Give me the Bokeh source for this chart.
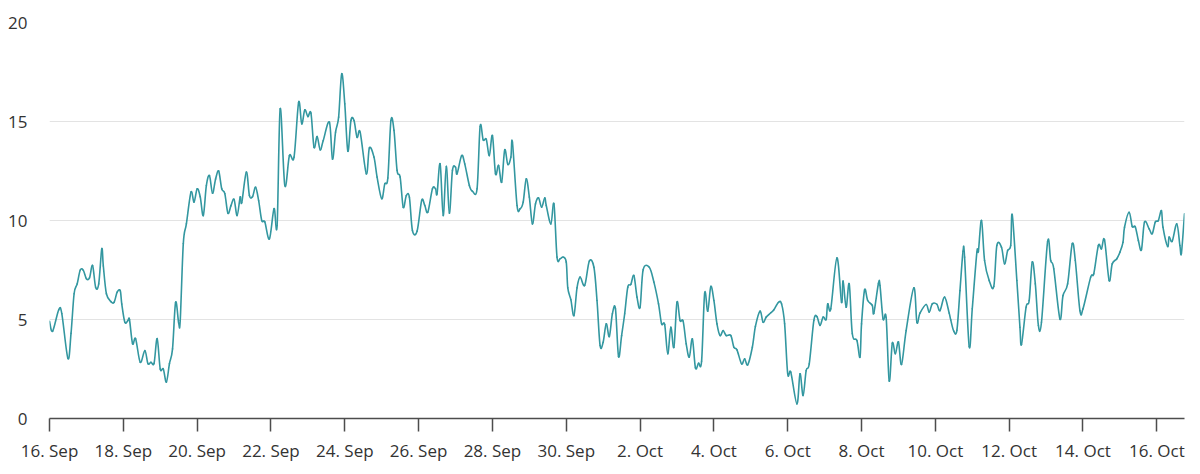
from bokeh.plotting import figure
from bokeh.models import Range1d, FixedTicker
from bokeh.embed import file_html
from bokeh.resources import INLINE

# hours since 16 Sep 00:00
hours = [0, 2, 6, 8, 12, 14, 16, 18, 20, 22, 24, 26, 28, 30, 32, 34, 35, 37, 40, 42,
         44, 46, 47, 49, 51, 52, 54, 56, 59, 62, 64, 66, 68, 70, 72, 74, 76, 78, 80, 82,
         84, 85, 87, 89, 92, 94, 96, 98, 100, 102, 104, 106, 108, 110, 112, 114, 116, 118, 120, 122,
         124, 125, 128, 130, 132, 134, 136, 138, 140, 143, 146, 148, 150, 153, 156, 159, 162, 164, 166, 168,
         170, 172, 174, 176, 178, 182, 184, 186, 188, 190, 192, 194, 196, 198, 200, 202, 206, 208, 211, 213,
         216, 218, 220, 222, 224, 226, 228, 230, 232, 234, 236, 239, 242, 244, 246, 249, 251, 252, 254, 256,
         258, 260, 262, 264, 265, 268, 270, 273, 275, 278, 280, 282, 284, 286, 288, 290, 292, 294, 296, 298,
         300, 301, 304, 306, 308, 310, 312, 314, 316, 318, 320, 322, 323, 326, 328, 330, 332, 334, 336, 337,
         339, 341, 343, 345, 348, 351, 354, 356, 358, 360, 362, 364, 366, 368, 370, 372, 374, 376, 378, 380,
         382, 384, 386, 390, 393, 396, 398, 400, 402, 404, 406, 408, 410, 412, 414, 416, 418, 420, 422, 424,
         426, 428, 430, 432, 434, 436, 438, 440, 443, 445, 447, 450, 452, 454, 457, 459, 462, 464, 466, 469,
         471, 474, 476, 478, 480, 482, 486, 488, 490, 492, 494, 497, 499, 501, 503, 505, 506, 508, 512, 515,
         516, 518, 520, 522, 525, 527, 528, 530, 532, 535, 536, 539, 540, 542, 544, 546, 548, 550, 552, 554,
         557, 562, 564, 566, 570, 572, 574, 577, 579, 582, 585, 586, 588, 590, 592, 594, 595, 598, 600, 603,
         604, 606, 608, 611, 614, 616, 619, 621, 623, 625, 626, 629, 631, 632, 635, 637, 639, 641, 643, 645,
         649, 651, 653, 657, 659, 662, 665, 667, 670, 672, 677, 679, 682, 684, 686, 689, 691, 694, 696, 698,
         699, 702, 704, 706, 708, 710, 712, 715, 717, 719, 721, 723, 724, 727, 728, 730, 733, 735, 736, 738]

values = [4.91, 4.41, 5.49, 5.3, 3.03, 4.3, 6.3, 6.8, 7.5, 7.48, 7.06, 7.1, 7.73, 6.63, 6.8, 8.57, 7.7, 6.3, 5.9, 5.87,
          6.38, 6.46, 5.78, 4.86, 4.95, 5.0, 3.78, 4.03, 2.84, 3.43, 2.77, 2.84, 2.79, 4.03, 2.5, 2.5, 1.84, 2.77, 3.52, 5.87,
          4.82, 4.95, 8.83, 9.83, 11.43, 10.93, 11.6, 11.2, 10.25, 11.77, 12.27, 11.38, 12.1, 12.5, 11.6, 11.36, 10.37, 10.75, 11.07, 10.25,
          11.19, 10.9, 12.44, 11.26, 11.2, 11.68, 11.0, 10.0, 9.93, 9.07, 10.6, 9.75, 15.64, 11.77, 13.28, 13.2, 15.98, 14.88, 15.59, 15.25,
          15.42, 13.7, 14.24, 13.57, 14.04, 14.97, 13.1, 14.46, 15.22, 17.41, 15.89, 13.5, 15.05, 15.05, 14.2, 14.46, 12.36, 13.67, 13.2, 12.19,
          11.1, 11.85, 12.15, 15.05, 14.55, 12.53, 12.19, 10.67, 11.26, 11.18, 9.49, 9.46, 11.01, 10.76, 10.42, 11.6, 11.6, 11.35, 12.86, 10.25,
          12.73, 10.37, 12.53, 12.69, 12.36, 13.28, 12.86, 11.77, 11.48, 11.6, 14.75, 14.07, 14.1, 13.28, 14.29, 12.36, 12.78, 11.94, 13.57, 12.83,
          13.2, 13.96, 10.76, 10.59, 10.93, 12.1, 11.18, 9.83, 10.84, 11.14, 10.67, 11.14, 10.76, 9.83, 10.84, 8.15, 8.07, 8.15, 7.9, 6.6,
          6.0, 5.2, 6.6, 7.14, 6.72, 7.95, 7.64, 5.96, 3.69, 3.85, 4.78, 4.14, 5.29, 5.54, 3.13, 4.19, 5.29, 6.63, 6.77, 7.22,
          6.13, 5.62, 7.51, 7.64, 6.89, 5.79, 4.78, 4.75, 3.27, 4.61, 3.6, 5.87, 4.95, 4.92, 3.77, 3.1, 4.02, 2.56, 2.79, 2.89,
          6.33, 5.42, 6.67, 5.96, 4.78, 4.19, 4.44, 4.19, 4.19, 3.6, 3.47, 2.76, 3.01, 2.71, 3.6, 4.65, 5.42, 4.86, 5.12, 5.34,
          5.49, 5.87, 5.79, 4.78, 2.26, 2.34, 0.74, 2.26, 1.16, 2.42, 2.76, 4.95, 5.15, 4.7, 5.12, 5.0, 5.79, 5.54, 8.11, 5.87,
          6.94, 5.62, 6.8, 4.28, 3.94, 3.1, 4.78, 6.5, 5.96, 5.71, 5.32, 6.83, 6.72, 5.03, 5.1, 1.9, 3.8, 3.27, 3.87, 2.73,
          4.44, 6.6, 4.86, 5.32, 5.76, 5.37, 5.79, 5.77, 5.45, 6.13, 5.32, 4.98, 4.41, 4.45, 6.46, 8.45, 8.15, 3.64, 5.54, 8.4,
          8.45, 10.0, 7.98, 6.97, 6.67, 8.74, 8.65, 7.81, 8.48, 8.74, 10.29, 6.97, 4.61, 3.74, 5.62, 5.96, 7.9, 6.8, 4.7, 4.86,
          8.94, 7.98, 7.56, 5.03, 6.21, 6.8, 8.82, 7.98, 5.45, 5.54, 7.14, 7.31, 8.74, 8.57, 9.02, 6.97, 7.81, 8.07, 8.4, 8.9,
          9.66, 10.42, 9.7, 9.68, 8.99, 8.52, 9.92, 9.58, 9.33, 9.92, 10.0, 10.5, 9.66, 8.69, 9.16, 8.95, 9.83, 8.74, 8.35, 10.34]

tick_hours = [0, 48, 96, 144, 192, 240, 288, 336, 384, 432, 480, 528, 576, 624, 672, 720]
tick_labels = ["16. Sep", "18. Sep", "20. Sep", "22. Sep", "24. Sep", "26. Sep", "28. Sep", "30. Sep",
               "2. Oct", "4. Oct", "6. Oct", "8. Oct", "10. Oct", "12. Oct", "14. Oct", "16. Oct"]
y_ticks = [0, 5, 10, 15, 20]

FONT = "Open Sans"
TEXT = "#333333"
LINE = "#3397a0"

p = figure(width=1192, height=466, output_backend="svg", toolbar_location=None,
           x_range=Range1d(0, 738), y_range=Range1d(0, 20),
           min_border_left=49, min_border_right=8, min_border_top=22, min_border_bottom=48)
p.outline_line_color = None
p.background_fill_color = "white"
p.border_fill_color = "white"

# smooth (spline-like) rendering of the series: cubic Bezier segments between
# consecutive data points, control points from neighbouring points (Catmull-Rom)
n = len(hours)
x0, y0, x1, y1, cx0, cy0, cx1, cy1 = [], [], [], [], [], [], [], []
k = 1.0 / 6.0
for i in range(n - 1):
    xp, yp = (hours[i - 1], values[i - 1]) if i > 0 else (hours[i], values[i])
    xa_, ya_ = hours[i], values[i]
    xb_, yb_ = hours[i + 1], values[i + 1]
    xn, yn = (hours[i + 2], values[i + 2]) if i + 2 < n else (hours[i + 1], values[i + 1])
    x0.append(xa_); y0.append(ya_); x1.append(xb_); y1.append(yb_)
    cx0.append(xa_ + (xb_ - xp) * k); cy0.append(ya_ + (yb_ - yp) * k)
    cx1.append(xb_ - (xn - xa_) * k); cy1.append(yb_ - (yn - ya_) * k)

p.bezier(x0=x0, y0=y0, x1=x1, y1=y1, cx0=cx0, cy0=cy0, cx1=cx1, cy1=cy1,
         line_color=LINE, line_width=1.6, line_cap="round")

xa = p.xaxis[0]
xa.ticker = FixedTicker(ticks=tick_hours)
xa.major_label_overrides = {h: l for h, l in zip(tick_hours, tick_labels)}
xa.axis_line_color = "#4d4d4d"
xa.axis_line_width = 1.5
xa.major_tick_line_color = "#4d4d4d"
xa.major_tick_line_width = 1.5
xa.major_tick_in = 0
xa.major_tick_out = 13
xa.minor_tick_line_color = None
xa.major_label_standoff = 7
xa.major_label_text_font = FONT
xa.major_label_text_font_size = "17px"
xa.major_label_text_color = TEXT

ya = p.yaxis[0]
ya.ticker = FixedTicker(ticks=y_ticks)
ya.axis_line_color = None
ya.major_tick_line_color = None
ya.minor_tick_line_color = None
ya.major_tick_in = 0
ya.major_tick_out = 0
ya.major_label_standoff = 22
ya.major_label_text_font = FONT
ya.major_label_text_font_size = "17px"
ya.major_label_text_color = TEXT

p.xgrid.grid_line_color = None
p.ygrid.grid_line_color = "#e3e3e3"
p.ygrid.grid_line_width = 1

open("out.html", "w").write(file_html(p, INLINE))
